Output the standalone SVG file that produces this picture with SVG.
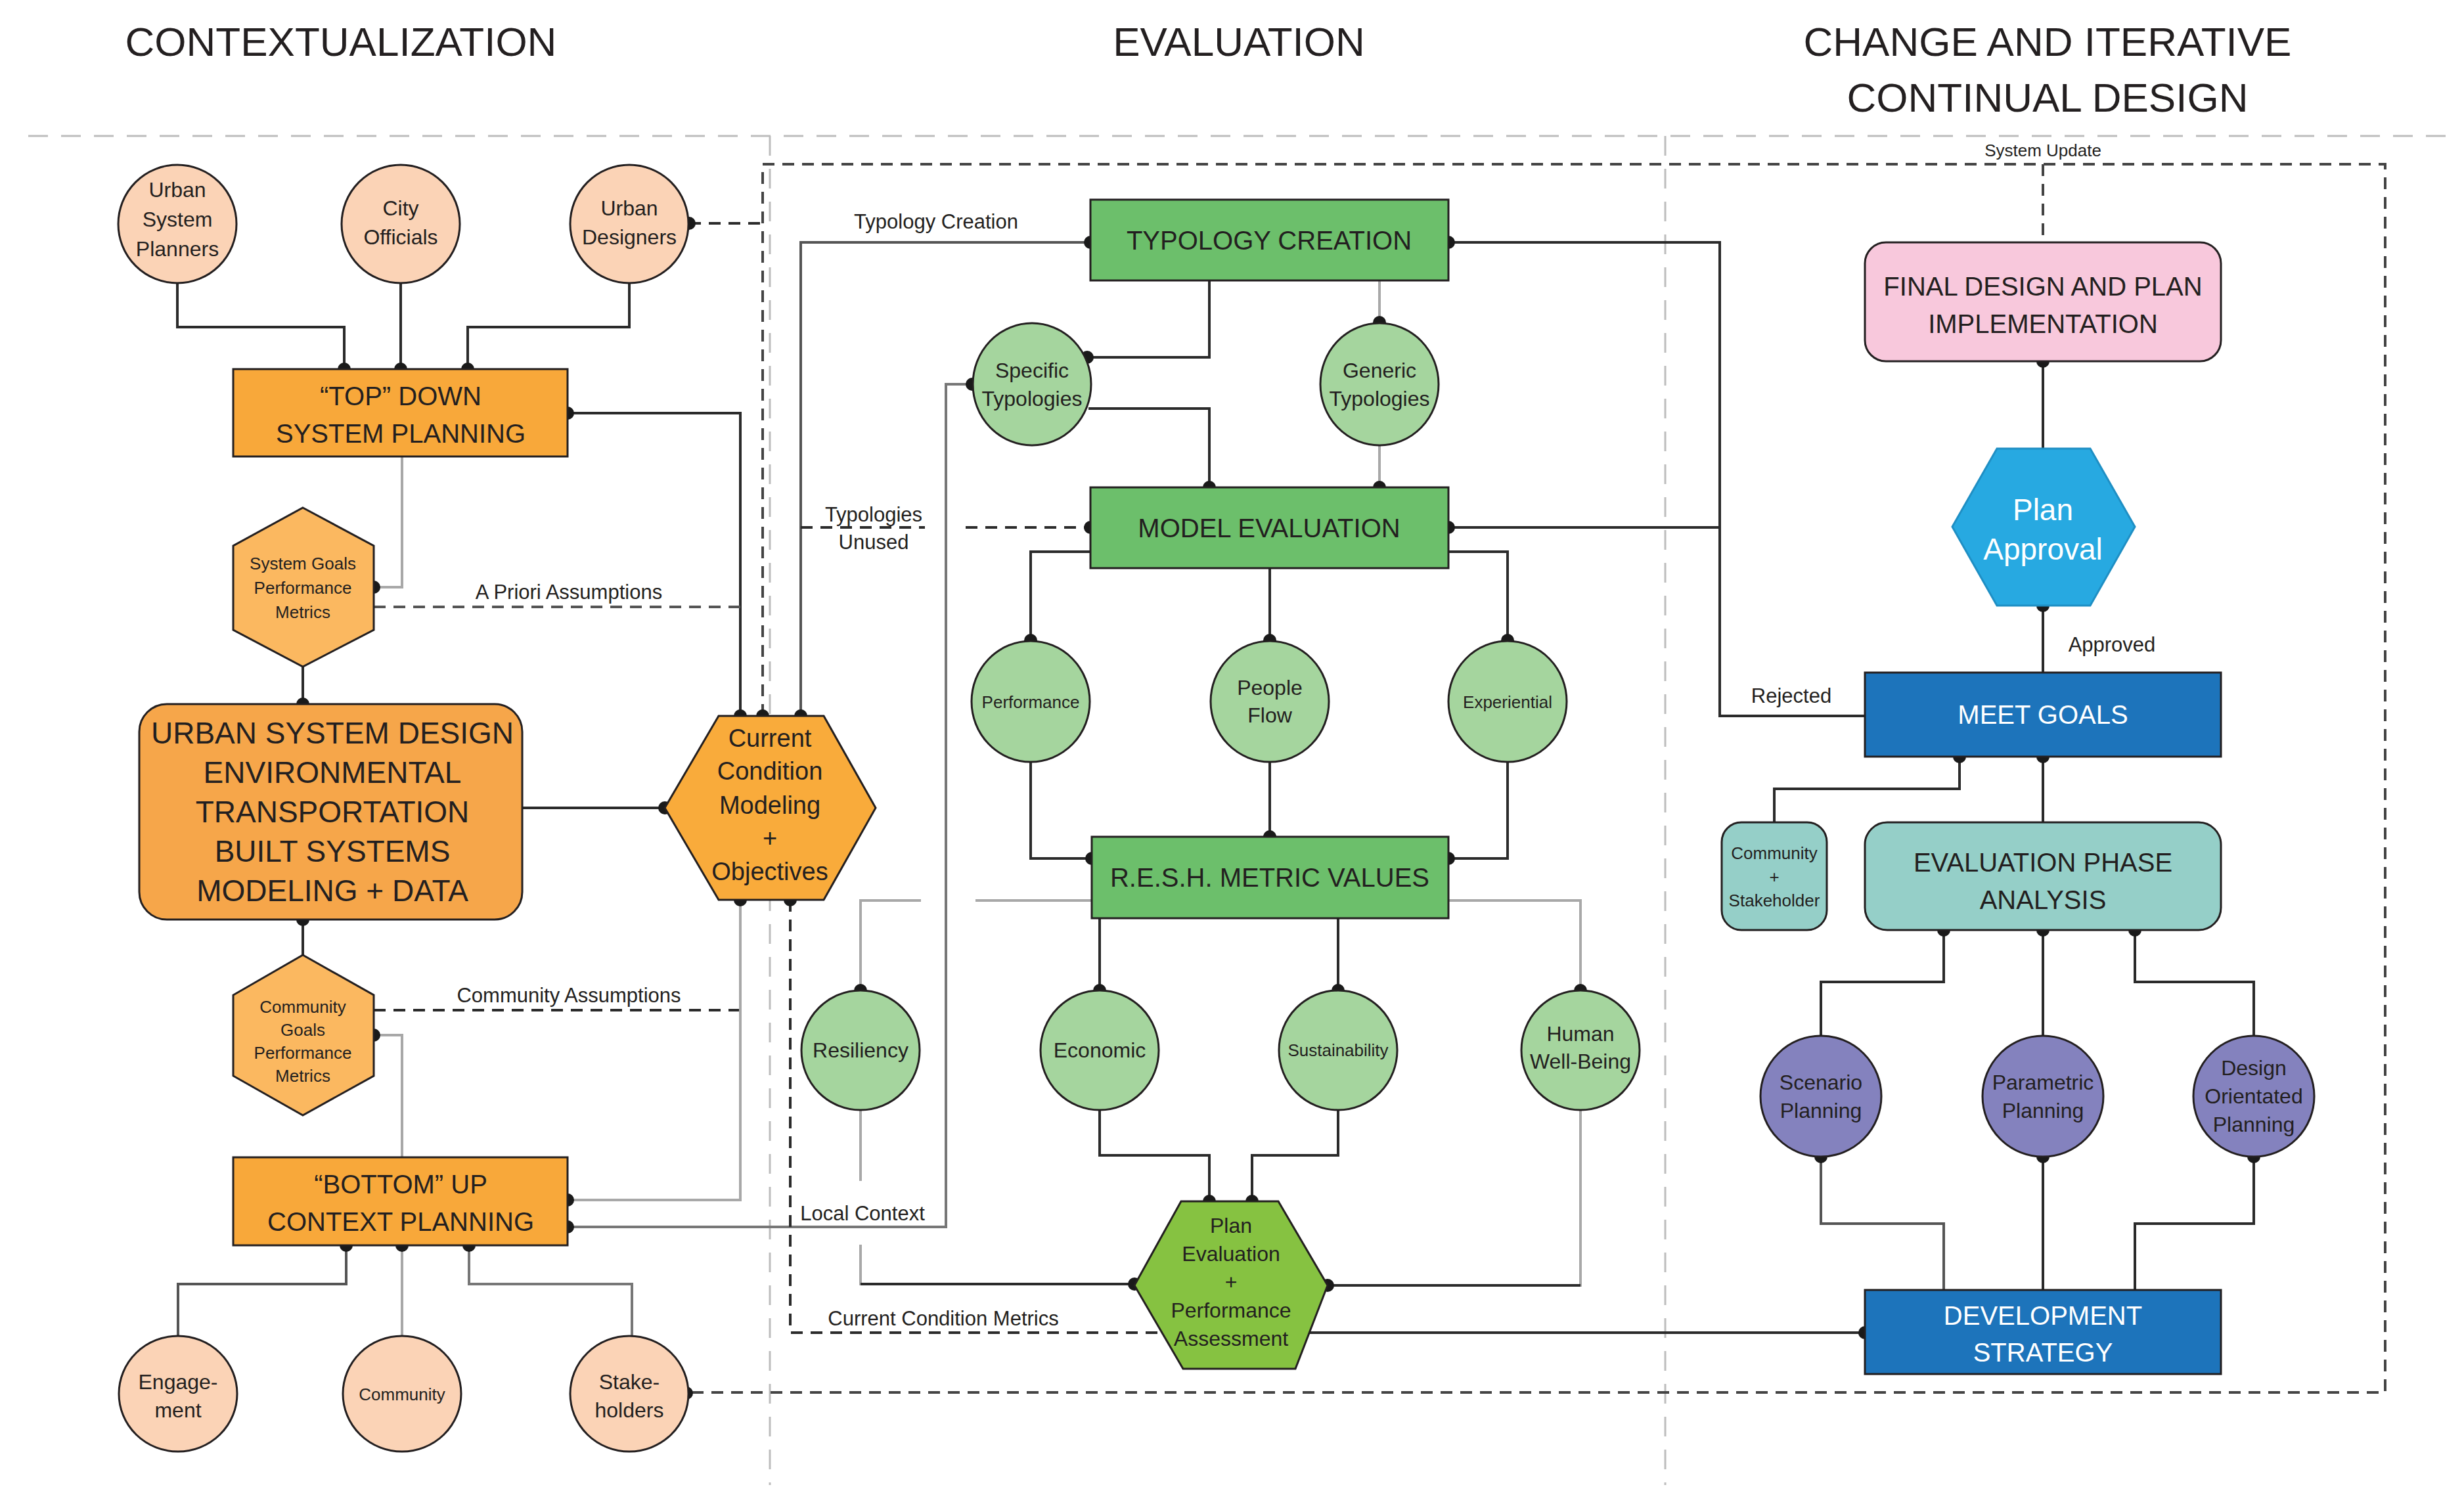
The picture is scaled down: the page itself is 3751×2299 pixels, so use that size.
<svg xmlns="http://www.w3.org/2000/svg" width="3751" height="2299" viewBox="0 0 3751 2299">
<style>
text{font-family:"Liberation Sans",Arial,sans-serif;fill:#231f20;text-anchor:middle}
.t{font-size:62px}
.b{font-size:40px}
.bl{font-size:46px}
.c{font-size:32px}
.s{font-size:26px}
.l{font-size:31px}
.w{fill:#fff}
.ln{fill:none;stroke:#2b2b2b;stroke-width:4}
.g{fill:none;stroke:#a8a8a8;stroke-width:4}
.d{fill:none;stroke:#2b2b2b;stroke-width:4;stroke-dasharray:18 12}
.sec{fill:none;stroke:#bdbdbd;stroke-width:3;stroke-dasharray:30 20}
.nd{stroke:#231f20;stroke-width:3}
.peach{fill:#fbd3b6}
.lg{fill:#a5d59e}
.gb{fill:#6cbf6b}
.pu{fill:#8482be}
.te{fill:#95cfc8}
.bu{fill:#1d74bb}
</style>
<defs>
<marker id="dot" viewBox="0 0 20 20" refX="10" refY="10" markerWidth="6" markerHeight="6" markerUnits="userSpaceOnUse"><circle cx="10" cy="10" r="10" fill="#1a1a1a"/></marker>
</defs>

<!-- section lines -->
<g id="sections">
<line class="sec" x1="43" y1="207" x2="3723" y2="207"/>
<line class="sec" x1="1172" y1="207" x2="1172" y2="2261"/>
<line class="sec" x1="2535" y1="207" x2="2535" y2="2261"/>
<text class="t" x="519" y="85">CONTEXTUALIZATION</text>
<text class="t" x="1886" y="85">EVALUATION</text>
<text class="t" x="3117" y="85">CHANGE AND ITERATIVE</text>
<text class="t" x="3117" y="170">CONTINUAL DESIGN</text>
</g>

<g id="connectors">
<!-- system update loop -->
<path class="d" d="M1161 1090 V250 H3631 V2120 H1045" style="stroke-dasharray:18 12;stroke:#444"/>
<path class="d" d="M3110 250 V369" style="stroke:#444"/>
<text class="s" x="3110" y="238">System Update</text>
<path class="d" d="M1049 340 H1161"/>
<!-- top -->
<path class="ln" d="M270 431 V498 H524 V562"/>
<path class="ln" d="M610 431 V562"/>
<path class="ln" d="M958 431 V498 H712 V562"/>
<path class="ln" d="M864 629 H1127 V1090"/>
<path class="g" d="M612 695 V894 H569"/>
<path class="d" d="M569 924 H1127" style="stroke:#555"/>
<text class="l" x="866" y="912">A Priori Assumptions</text>
<path class="ln" d="M461 1015 V1072"/>
<path class="ln" d="M795 1230 H1012"/>
<path class="ln" d="M461 1400 V1454"/>
<path class="g" d="M569 1576 H612 V1762"/>
<path class="d" d="M569 1538 H1127"/>
<text class="l" x="866" y="1526">Community Assumptions</text>
<path class="g" d="M1127 1370 V1827 H864"/>
<path class="g" d="M864 1868 H1440 V585 H1480" style="stroke:#777"/>
<text class="l" x="1313" y="1858">Local Context</text>
<path class="d" d="M1203 1370 V2029 H1772"/>
<text class="l" x="1436" y="2018">Current Condition Metrics</text>
<path class="ln" d="M1772 2029 H2839"/>
<path class="g" d="M527 1896 V1955 H271 V2034" style="stroke:#555"/>
<path class="g" d="M612 1896 V2034"/>
<path class="g" d="M714 1896 V1955 H962 V2034" style="stroke:#777"/>
<!-- evaluation -->
<path class="ln" d="M1219 1090 V369 H1660" style="stroke:#555"/>
<text class="l" x="1425" y="348">Typology Creation</text>
<path class="d" d="M1219 803 H1408 M1470 803 H1660"/>
<text class="l" x="1330" y="794">Typologies</text>
<text class="l" x="1330" y="836">Unused</text>
<path class="ln" d="M1841 427 V544 H1655"/>
<path class="g" d="M2100 427 V491"/>
<path class="ln" d="M1657 622 H1841 V742"/>
<path class="g" d="M2100 678 V742"/>
<path class="ln" d="M2205 369 H2618 V1090 H2839"/>
<path class="ln" d="M2205 803 H2618"/>
<text class="l" x="2727" y="1070">Rejected</text>
<path class="ln" d="M1660 840 H1569 V975"/>
<path class="ln" d="M1933 865 V975"/>
<path class="ln" d="M2205 840 H2295 V975"/>
<path class="ln" d="M1569 1160 V1307 H1662"/>
<path class="ln" d="M1933 1160 V1274"/>
<path class="ln" d="M2295 1160 V1307 H2205"/>
<path class="g" d="M1662 1371 H1485 M1402 1371 H1310 V1508"/>
<path class="g" d="M2205 1371 H2406 V1508"/>
<path class="ln" d="M1674 1398 V1508"/>
<path class="ln" d="M2037 1398 V1508"/>
<path class="ln" d="M1674 1690 V1759 H1841 V1829"/>
<path class="ln" d="M2037 1690 V1759 H1906 V1829"/>
<path class="g" d="M1310 1690 V1798 M1310 1895 V1955 H1727"/>
<path class="ln" d="M1310 1955 H1727"/>
<path class="g" d="M2406 1690 V1957 H2021"/>
<path class="ln" d="M2406 1957 H2021"/>
<!-- right -->
<path class="ln" d="M3110 550 V683"/>
<path class="ln" d="M3110 922 V1024"/>
<text class="l" x="3215" y="992">Approved</text>
<path class="ln" d="M2983 1152 V1201 H2701 V1252"/>
<path class="ln" d="M3110 1152 V1252"/>
<path class="ln" d="M2959 1416 V1495 H2772 V1578"/>
<path class="ln" d="M3110 1416 V1578"/>
<path class="ln" d="M3250 1416 V1495 H3431 V1578"/>
<path class="g" d="M2772 1761 V1863 H2959 V1964" style="stroke:#555"/>
<path class="ln" d="M3110 1761 V1964"/>
<path class="ln" d="M3431 1761 V1863 H3250 V1964"/>
<!-- dots -->
<g fill="#1a1a1a">
<circle cx="524" cy="562" r="10"/><circle cx="610" cy="562" r="10"/><circle cx="712" cy="562" r="10"/>
<circle cx="1049" cy="340" r="10"/><circle cx="864" cy="629" r="10"/><circle cx="569" cy="894" r="10"/>
<circle cx="461" cy="1072" r="10"/><circle cx="1012" cy="1230" r="10"/><circle cx="461" cy="1400" r="10"/>
<circle cx="569" cy="1576" r="10"/><circle cx="864" cy="1827" r="10"/><circle cx="864" cy="1868" r="10"/>
<circle cx="527" cy="1896" r="10"/><circle cx="612" cy="1896" r="10"/><circle cx="714" cy="1896" r="10"/>
<circle cx="1045" cy="2121" r="10"/>
<circle cx="1127" cy="1090" r="10"/><circle cx="1161" cy="1090" r="10"/><circle cx="1219" cy="1090" r="10"/>
<circle cx="1127" cy="1370" r="10"/><circle cx="1203" cy="1370" r="10"/>
<circle cx="1660" cy="369" r="10"/><circle cx="2205" cy="369" r="10"/><circle cx="1655" cy="544" r="10"/>
<circle cx="1480" cy="585" r="10"/><circle cx="2100" cy="491" r="10"/>
<circle cx="1841" cy="742" r="10"/><circle cx="2100" cy="742" r="10"/>
<circle cx="1660" cy="803" r="10"/><circle cx="2205" cy="803" r="10"/>
<circle cx="1569" cy="975" r="10"/><circle cx="1933" cy="975" r="10"/><circle cx="2295" cy="975" r="10"/>
<circle cx="1662" cy="1307" r="10"/><circle cx="1933" cy="1274" r="10"/><circle cx="2205" cy="1307" r="10"/>
<circle cx="1310" cy="1508" r="10"/><circle cx="1674" cy="1508" r="10"/><circle cx="2037" cy="1508" r="10"/><circle cx="2406" cy="1508" r="10"/>
<circle cx="1841" cy="1829" r="10"/><circle cx="1906" cy="1829" r="10"/>
<circle cx="1727" cy="1955" r="10"/><circle cx="2021" cy="1957" r="10"/>
<circle cx="3110" cy="550" r="10"/><circle cx="3110" cy="922" r="10"/>
<circle cx="2983" cy="1152" r="10"/><circle cx="3110" cy="1152" r="10"/>
<circle cx="2959" cy="1416" r="10"/><circle cx="3110" cy="1416" r="10"/><circle cx="3250" cy="1416" r="10"/>
<circle cx="2772" cy="1761" r="10"/><circle cx="3110" cy="1761" r="10"/><circle cx="3431" cy="1761" r="10"/>
<circle cx="2839" cy="2029" r="10"/>
</g>
</g>

<!-- contextualization nodes -->
<g id="urban-system-planners"><ellipse class="peach nd" cx="270" cy="341" rx="90" ry="90"/><text class="c" x="270" y="300">Urban</text><text class="c" x="270" y="345">System</text><text class="c" x="270" y="390">Planners</text></g>
<g id="city-officials"><ellipse class="peach nd" cx="610" cy="341" rx="90" ry="90"/><text class="c" x="610" y="328">City</text><text class="c" x="610" y="372">Officials</text></g>
<g id="urban-designers"><ellipse class="peach nd" cx="958" cy="341" rx="90" ry="90"/><text class="c" x="958" y="328">Urban</text><text class="c" x="958" y="372">Designers</text></g>
<g id="top-down"><rect x="355" y="562" width="509" height="133" fill="#f8a83a" class="nd"/><text class="b" x="610" y="617">“TOP” DOWN</text><text class="b" x="610" y="674">SYSTEM PLANNING</text></g>
<g id="system-goals"><polygon points="461,773 569,831 569,959 461,1015 355,959 355,831" fill="#fbb860" class="nd"/><text class="s" x="461" y="867">System Goals</text><text class="s" x="461" y="904">Performance</text><text class="s" x="461" y="941">Metrics</text></g>
<g id="urban-system-design"><rect x="212" y="1072" width="583" height="328" rx="42" fill="#f6a64a" class="nd"/><text class="bl" x="506" y="1132">URBAN SYSTEM DESIGN</text><text class="bl" x="506" y="1192">ENVIRONMENTAL</text><text class="bl" x="506" y="1252">TRANSPORTATION</text><text class="bl" x="506" y="1312">BUILT SYSTEMS</text><text class="bl" x="506" y="1372">MODELING + DATA</text></g>
<g id="current-condition"><polygon points="1094,1090 1254,1090 1333,1230 1254,1370 1094,1370 1012,1230" fill="#f9ab3b" class="nd"/><text class="c" x="1172" y="1137" style="font-size:38px">Current</text><text class="c" x="1172" y="1187" style="font-size:38px">Condition</text><text class="c" x="1172" y="1239" style="font-size:38px">Modeling</text><text class="c" x="1172" y="1289" style="font-size:38px">+</text><text class="c" x="1172" y="1340" style="font-size:38px">Objectives</text></g>
<g id="community-goals"><polygon points="461,1454 569,1515 569,1638 461,1698 355,1638 355,1515" fill="#fbb860" class="nd"/><text class="s" x="461" y="1542">Community</text><text class="s" x="461" y="1577">Goals</text><text class="s" x="461" y="1612">Performance</text><text class="s" x="461" y="1647">Metrics</text></g>
<g id="bottom-up"><rect x="355" y="1762" width="509" height="134" fill="#f8a83a" class="nd"/><text class="b" x="610" y="1817">“BOTTOM” UP</text><text class="b" x="610" y="1874">CONTEXT PLANNING</text></g>
<g id="engagement"><ellipse class="peach nd" cx="271" cy="2122" rx="90" ry="88"/><text class="c" x="271" y="2115">Engage-</text><text class="c" x="271" y="2158">ment</text></g>
<g id="community"><ellipse class="peach nd" cx="612" cy="2122" rx="90" ry="88"/><text class="s" x="612" y="2132">Community</text></g>
<g id="stakeholders"><ellipse class="peach nd" cx="958" cy="2122" rx="90" ry="88"/><text class="c" x="958" y="2115">Stake-</text><text class="c" x="958" y="2158">holders</text></g>

<!-- evaluation nodes -->
<g id="typology-creation"><rect class="gb nd" x="1660" y="304" width="545" height="123"/><text class="b" x="1932" y="380">TYPOLOGY CREATION</text></g>
<g id="specific-typologies"><ellipse class="lg nd" cx="1571" cy="585" rx="90" ry="93"/><text class="c" x="1571" y="575">Specific</text><text class="c" x="1571" y="618">Typologies</text></g>
<g id="generic-typologies"><ellipse class="lg nd" cx="2100" cy="585" rx="90" ry="93"/><text class="c" x="2100" y="575">Generic</text><text class="c" x="2100" y="618">Typologies</text></g>
<g id="model-evaluation"><rect class="gb nd" x="1660" y="742" width="545" height="123"/><text class="b" x="1932" y="818">MODEL EVALUATION</text></g>
<g id="performance"><ellipse class="lg nd" cx="1569" cy="1068" rx="90" ry="92"/><text class="s" x="1569" y="1078">Performance</text></g>
<g id="people-flow"><ellipse class="lg nd" cx="1933" cy="1068" rx="90" ry="92"/><text class="c" x="1933" y="1058">People</text><text class="c" x="1933" y="1100">Flow</text></g>
<g id="experiential"><ellipse class="lg nd" cx="2295" cy="1068" rx="90" ry="92"/><text class="s" x="2295" y="1078">Experiential</text></g>
<g id="resh"><rect class="gb nd" x="1662" y="1274" width="543" height="124"/><text class="b" x="1933" y="1350">R.E.S.H. METRIC VALUES</text></g>
<g id="resiliency"><ellipse class="lg nd" cx="1310" cy="1599" rx="90" ry="91"/><text class="c" x="1310" y="1610">Resiliency</text></g>
<g id="economic"><ellipse class="lg nd" cx="1674" cy="1599" rx="90" ry="91"/><text class="c" x="1674" y="1610">Economic</text></g>
<g id="sustainability"><ellipse class="lg nd" cx="2037" cy="1599" rx="90" ry="91"/><text class="s" x="2037" y="1608">Sustainability</text></g>
<g id="human-well-being"><ellipse class="lg nd" cx="2406" cy="1599" rx="90" ry="91"/><text class="c" x="2406" y="1585">Human</text><text class="c" x="2406" y="1627">Well-Being</text></g>
<g id="plan-evaluation"><polygon points="1798,1829 1946,1829 2021,1957 1972,2084 1801,2084 1727,1957" fill="#86c241" class="nd"/><text class="c" x="1874" y="1877">Plan</text><text class="c" x="1874" y="1920">Evaluation</text><text class="c" x="1874" y="1963">+</text><text class="c" x="1874" y="2006">Performance</text><text class="c" x="1874" y="2049">Assessment</text></g>

<!-- change nodes -->
<g id="final-design"><rect x="2839" y="369" width="542" height="181" rx="32" fill="#f8c8dc" class="nd"/><text class="b" x="3110" y="450">FINAL DESIGN AND PLAN</text><text class="b" x="3110" y="507">IMPLEMENTATION</text></g>
<g id="plan-approval"><polygon points="3040,683 3182,683 3250,802 3182,922 3040,922 2972,802" fill="#27a9e1" stroke="#1f8fc4" stroke-width="3"/><text class="bl w" x="3110" y="792">Plan</text><text class="bl w" x="3110" y="852">Approval</text></g>
<g id="meet-goals"><rect class="bu nd" x="2839" y="1024" width="542" height="128"/><text class="b w" x="3110" y="1102">MEET GOALS</text></g>
<g id="community-stakeholder"><rect class="te nd" x="2621" y="1252" width="160" height="164" rx="30"/><text class="s" x="2701" y="1308">Community</text><text class="s" x="2701" y="1344">+</text><text class="s" x="2701" y="1380">Stakeholder</text></g>
<g id="evaluation-phase"><rect class="te nd" x="2839" y="1252" width="542" height="164" rx="34"/><text class="b" x="3110" y="1327">EVALUATION PHASE</text><text class="b" x="3110" y="1384">ANALYSIS</text></g>
<g id="scenario-planning"><ellipse class="pu nd" cx="2772" cy="1669" rx="92" ry="92"/><text class="c" x="2772" y="1659">Scenario</text><text class="c" x="2772" y="1702">Planning</text></g>
<g id="parametric-planning"><ellipse class="pu nd" cx="3110" cy="1669" rx="92" ry="92"/><text class="c" x="3110" y="1659">Parametric</text><text class="c" x="3110" y="1702">Planning</text></g>
<g id="design-orientated"><ellipse class="pu nd" cx="3431" cy="1669" rx="92" ry="92"/><text class="c" x="3431" y="1637">Design</text><text class="c" x="3431" y="1680">Orientated</text><text class="c" x="3431" y="1723">Planning</text></g>
<g id="development-strategy"><rect class="bu nd" x="2839" y="1964" width="542" height="128"/><text class="b w" x="3110" y="2017">DEVELOPMENT</text><text class="b w" x="3110" y="2073">STRATEGY</text></g>
</svg>
